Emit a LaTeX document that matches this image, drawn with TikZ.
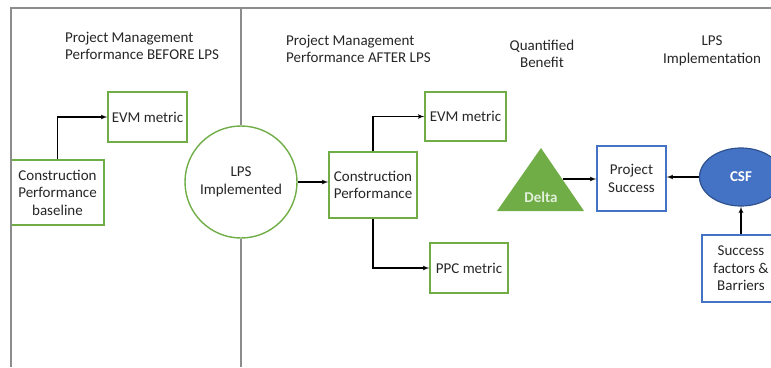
\documentclass[tikz,border=0pt]{standalone}
\usepackage{fontspec}
\setmainfont{Carlito}
\usetikzlibrary{shapes,arrows}

\definecolor{boxgreen}{HTML}{70AD47}
\definecolor{boxblue}{HTML}{4472C4}
\definecolor{csfedge}{HTML}{2F528F}
\definecolor{framegray}{HTML}{8C8C8C}
\definecolor{deltatext}{HTML}{E2EFDA}

\begin{document}
\begin{tikzpicture}[x=1pt, y=-1pt, font=\fontsize{15}{17.5}\selectfont, text=black!85]
\tikzstyle{gbox} = [ rectangle, draw=boxgreen, line width=1.4pt, align=center, inner sep=2pt ]
\tikzstyle{bbox} = [ rectangle, draw=boxblue, line width=1.4pt, align=center, inner sep=2pt ]
\tikzstyle{title} = [ inner sep=0pt ]
\tikzstyle{frame} = [ draw=framegray, line width=1.3pt ]
\tikzstyle{line} = [ draw, black, line width=1.2pt, -latex' ]
\useasboundingbox (0,0) rectangle (771,367);

% headings
\node [title, anchor=west, align=left] (title-before) at (65,46) {Project Management\\Performance BEFORE LPS};
\node [title, anchor=west, align=left] (title-after) at (286,49) {Project Management\\Performance AFTER LPS};
\node [title, align=center] (title-benefit) at (542,54) {Quantified\\Benefit};
\node [title, align=center] (title-impl) at (712,51) {LPS\\Implementation};

% place nodes
\node [gbox, minimum width=93, minimum height=65] (baseline) at (57.5,192.5) {Construction\\Performance\\baseline};
\node [gbox, minimum width=79, minimum height=50] (evm-before) at (147.5,117) {EVM metric};
\node [circle, draw=boxgreen, line width=1.4pt, minimum size=112, align=center] (lps) at (241,182) {LPS\\Implemented};
\node [gbox, minimum width=88, minimum height=66] (perf) at (373,185) {Construction\\Performance};
\node [gbox, minimum width=81, minimum height=49] (evm-after) at (465.5,116.5) {EVM metric};
\node [gbox, minimum width=78, minimum height=50] (ppc) at (469,268) {PPC metric};
\fill [boxgreen] (497,211) -- (541,148) -- (584,211) -- cycle;
\node [text=deltatext, font=\fontsize{15}{17.5}\selectfont\bfseries] (delta) at (541,197) {Delta};
\coordinate (delta-edge) at (562.5,179);
\node [bbox, minimum width=69, minimum height=65] (success) at (631.5,178.5) {Project\\Success};
\node [ellipse, draw=csfedge, fill=boxblue, line width=1.2pt, minimum width=83, minimum height=58, text=white, font=\fontsize{15}{17.5}\selectfont\bfseries] (csf) at (741,177) {CSF};
\node [bbox, minimum width=78, minimum height=67] (factors) at (741,268.5) {Success\\factors \&\\Barriers};

% frame and divider
\path [frame] (11,367) -- (11,8) -- (775,8);
\path [frame] (lps.north) -- (lps.north |- 0,8);
\path [frame] (lps.south) -- (lps.south |- 0,367);

% draw edges
\path [line] (baseline.north) |- (evm-before.west);
\path [line] (lps.east) -- (perf.west |- lps.east);
\path [line] (perf.north) |- (evm-after.west);
\path [line] (perf.south) |- (ppc.west);
\path [line] (delta-edge) -- (success.west |- delta-edge);
\path [line] (csf.west) -- (success.east |- csf.west);
\path [line] (factors.north) -- (csf.south);

\end{tikzpicture}
\end{document}
